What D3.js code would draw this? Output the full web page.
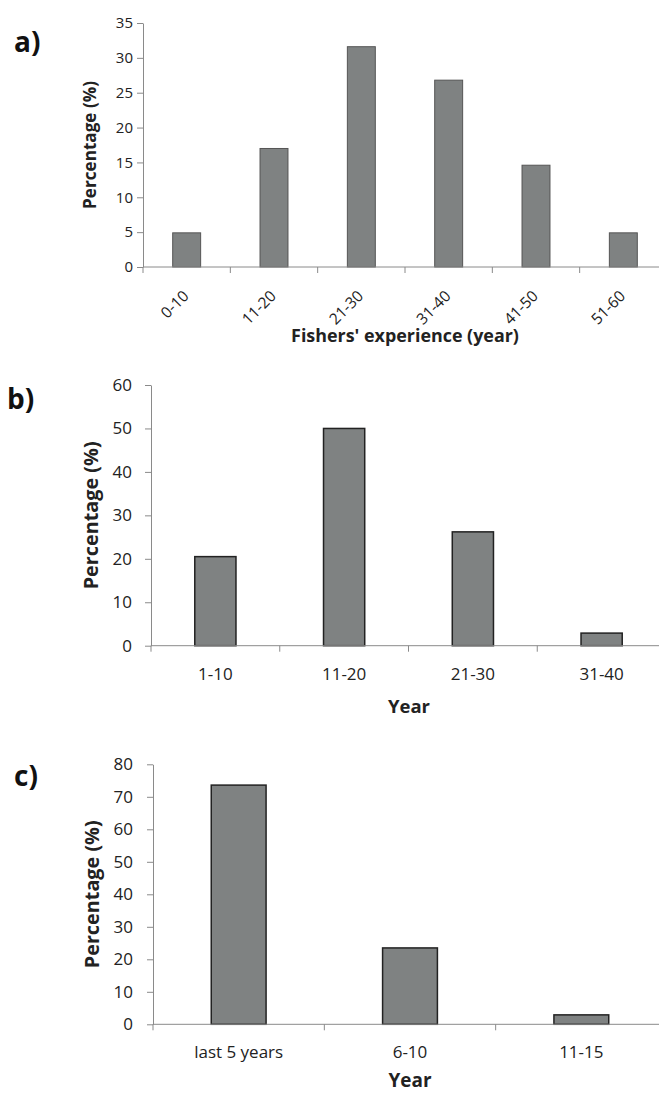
<!DOCTYPE html>
<html>
<head>
<meta charset="utf-8">
<script src="https://cdn.jsdelivr.net/npm/d3@7"></script>
<style>
  html, body { margin: 0; padding: 0; background: #fff; }
  svg { display: block; font-family: 'Open Sans', sans-serif; }
</style>
</head>
<body>
<script>
// Panel a) fishers' experience
const expCategories = ['0-10', '11-20', '21-30', '31-40', '41-50', '51-60']
const expValues = [4.9, 17.0, 31.6, 26.8, 14.6, 4.9]
const expTicks = [0, 5, 10, 15, 20, 25, 30, 35]

// Panel b)
const yearCategories = ['1-10', '11-20', '21-30', '31-40']
const yearValues = [20.5, 50.0, 26.2, 2.9]
const yearTicks = [0, 10, 20, 30, 40, 50, 60]

// Panel c)
const recentCategories = ['last 5 years', '6-10', '11-15']
const recentValues = [73.6, 23.5, 2.9]
const recentTicks = [0, 10, 20, 30, 40, 50, 60, 70, 80]

const width = 659
const height = 1093

const svg = d3.select('body').append('svg')
  .attr('width', width)
  .attr('height', height)
  .attr('viewBox', [0, 0, width, height].join(' '))

// scale a text's font size so that its rendered length matches the wanted length
const fitText = (sel, wanted, base) => {
  sel.style('font-size', base + 'px')
  const len = sel.node().getComputedTextLength()
  if (len > 0) sel.style('font-size', (base * wanted / len).toFixed(2) + 'px')
}

const panels = [
  {
    tag: 'a)', tagX: 14, tagY: 52, categories: expCategories, values: expValues, ticks: expTicks,
    left: 143, right: 667, top: 23, bottom: 267, tickFont: 15, tickPad: 4, labelFont: 15.5,
    yTitleLen: 128, yTitleX: 91, rotate: true, labelY: 30,
    xTitle: "Fishers' experience (year)", xTitleX: 405, xTitleY: 342, xTitleLen: 228,
    barStroke: '#555', barStrokeWidth: 1
  },
  {
    tag: 'b)', tagX: 7, tagY: 409, categories: yearCategories, values: yearValues, ticks: yearTicks,
    left: 151, right: 666, top: 385, bottom: 645.7, tickFont: 17, tickPad: 13, labelFont: 17,
    yTitleLen: 148, yTitleX: 92.5, rotate: false, labelY: 34,
    xTitle: 'Year', xTitleX: 409, xTitleY: 713, xTitleLen: 42,
    barStroke: '#222', barStrokeWidth: 1.5
  },
  {
    tag: 'c)', tagX: 14, tagY: 786, categories: recentCategories, values: recentValues, ticks: recentTicks,
    left: 153, right: 667, top: 764.3, bottom: 1024.3, tickFont: 17, tickPad: 14, labelFont: 17,
    yTitleLen: 148, yTitleX: 94, rotate: false, labelY: 34,
    xTitle: 'Year', xTitleX: 410, xTitleY: 1087, xTitleLen: 43,
    barStroke: '#222', barStrokeWidth: 1.5
  }
]

panels.forEach(p => {
  const g = svg.append('g')
  const yMax = p.ticks[p.ticks.length - 1]

  const xScale = d3.scaleBand()
    .domain(p.categories)
    .range([p.left, p.right])
    .paddingInner(0)
    .paddingOuter(0)

  const yScale = d3.scaleLinear()
    .domain([0, yMax])
    .range([p.bottom, p.top])

  // bars
  const barW = xScale.bandwidth() * 0.32
  g.selectAll('.bar')
    .data(p.categories)
    .enter().append('rect')
    .attr('x', c => xScale(c) + (xScale.bandwidth() - barW) / 2)
    .attr('y', (c, i) => yScale(p.values[i]))
    .attr('width', barW)
    .attr('height', (c, i) => yScale(0) - yScale(p.values[i]))
    .attr('fill', '#7f8282')
    .attr('stroke', p.barStroke)
    .attr('stroke-width', p.barStrokeWidth)

  // y axis
  const yAxis = g.append('g')
    .attr('transform', `translate(${p.left}, 0)`)
    .call(d3.axisLeft(yScale).tickValues(p.ticks).tickSize(6).tickSizeOuter(0).tickPadding(p.tickPad))
  yAxis.select('.domain').attr('stroke', '#8a8a8a')
  yAxis.selectAll('.tick line').attr('stroke', '#8a8a8a')
  yAxis.selectAll('text')
    .attr('fill', '#222')
    .style('font-size', p.tickFont + 'px')
    .style('font-family', "'Open Sans', sans-serif")

  // x axis line with category-boundary ticks (Excel style)
  const xAxis = g.append('g')
    .attr('transform', `translate(0, ${p.bottom})`)
  xAxis.append('line')
    .attr('x1', p.left).attr('x2', p.right)
    .attr('stroke', '#8a8a8a')
  const bounds = p.categories.map(c => xScale(c)).concat([xScale.range()[1]])
  xAxis.selectAll('.bnd')
    .data(bounds)
    .enter().append('line')
    .attr('x1', d => d).attr('x2', d => d)
    .attr('y1', 0).attr('y2', 6)
    .attr('stroke', '#8a8a8a')

  // x labels
  const labels = xAxis.selectAll('.lbl')
    .data(p.categories)
    .enter().append('text')
    .attr('fill', '#222')
    .style('font-size', p.labelFont + 'px')
    .text(c => c)
  if (p.rotate) {
    labels
      .attr('text-anchor', 'end')
      .attr('transform', c => `translate(${xScale(c) + xScale.bandwidth() / 2 + 3}, ${p.labelY}) rotate(-45)`)
  } else {
    labels
      .attr('text-anchor', 'middle')
      .attr('x', c => xScale(c) + xScale.bandwidth() / 2)
      .attr('y', p.labelY)
  }

  // axis titles
  const yTitle = g.append('text')
    .attr('transform', `translate(${p.yTitleX}, ${(p.top + p.bottom) / 2}) rotate(-90)`)
    .attr('text-anchor', 'middle')
    .attr('dominant-baseline', 'middle')
    .attr('fill', '#222')
    .style('font-weight', 'bold')
    .text('Percentage (%)')
  fitText(yTitle, p.yTitleLen, 17)

  const xTitle = g.append('text')
    .attr('x', p.xTitleX)
    .attr('y', p.xTitleY)
    .attr('text-anchor', 'middle')
    .attr('fill', '#222')
    .style('font-weight', 'bold')
    .text(p.xTitle)
  fitText(xTitle, p.xTitleLen, 17)

  // panel tag
  g.append('text')
    .attr('x', p.tagX)
    .attr('y', p.tagY)
    .attr('fill', '#111')
    .style('font-size', '28px')
    .style('font-weight', 'bold')
    .text(p.tag)
})
</script>
</body>
</html>
